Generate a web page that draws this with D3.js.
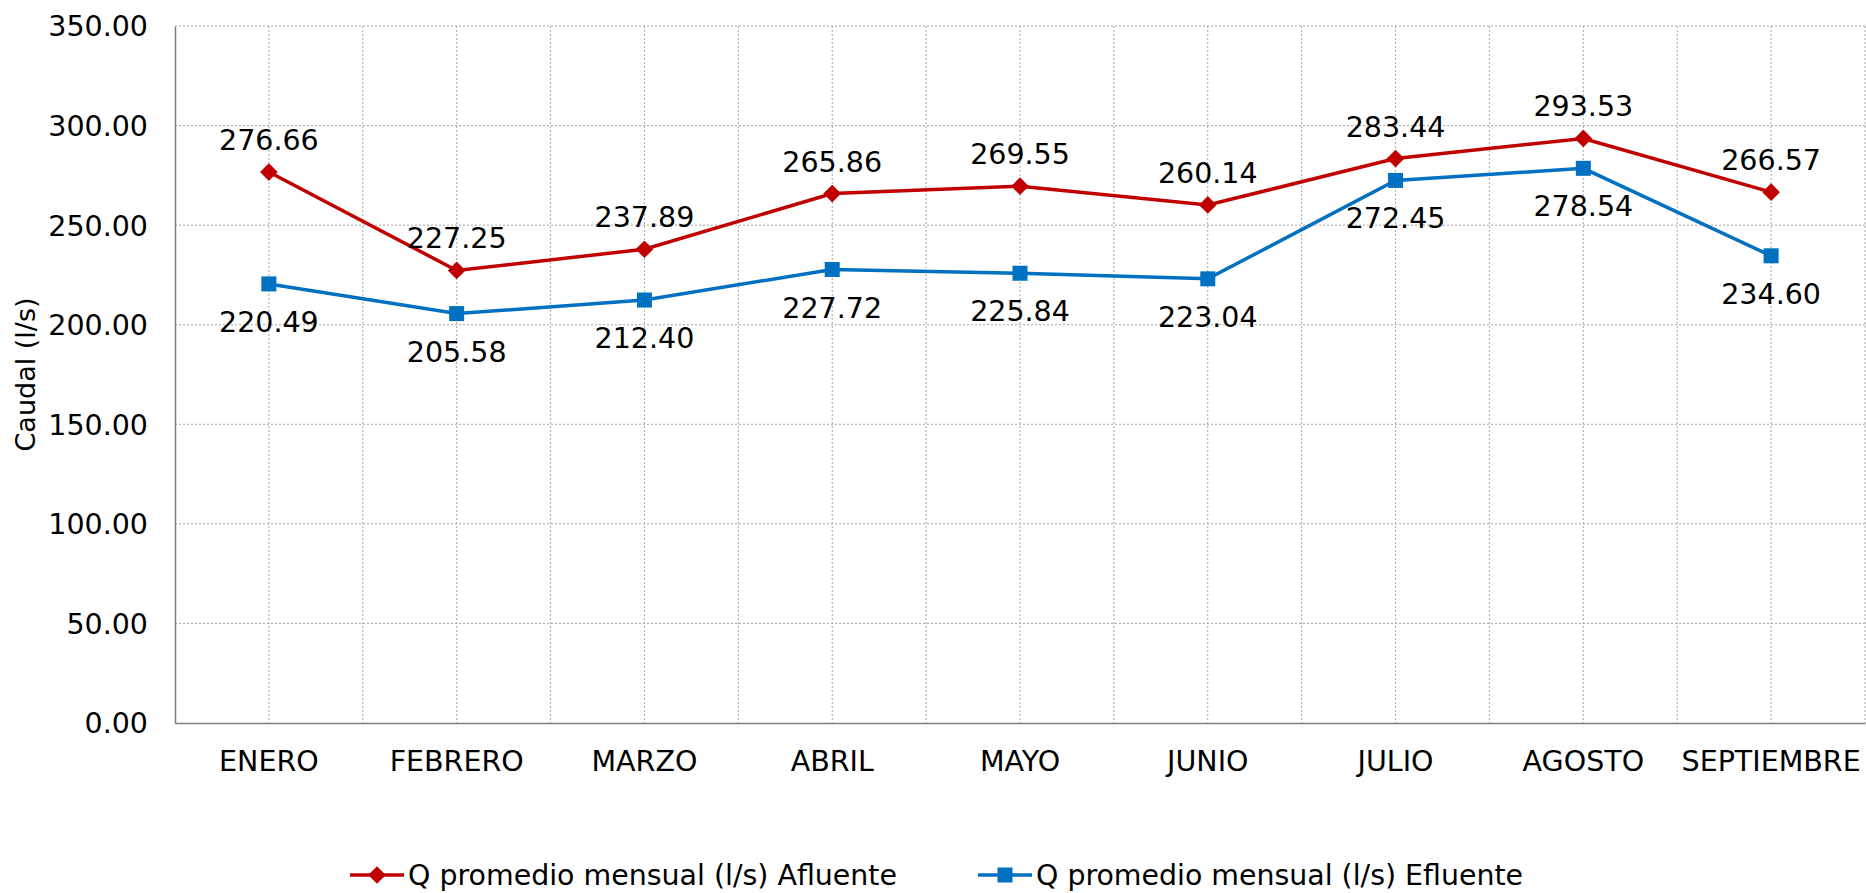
<!DOCTYPE html>
<html>
<head>
<meta charset="utf-8">
<script src="https://cdn.jsdelivr.net/npm/d3@7"></script>
<style>
  body { margin: 0; background: #fff; }
  text { font-family: "DejaVu Sans", Verdana, sans-serif; fill: #000; }
</style>
</head>
<body>
<div id="chart"></div>
<script>
// chart data
const months = ["ENERO", "FEBRERO", "MARZO", "ABRIL", "MAYO", "JUNIO", "JULIO", "AGOSTO", "SEPTIEMBRE"];
const afluente = [276.66, 227.25, 237.89, 265.86, 269.55, 260.14, 283.44, 293.53, 266.57];
const efluente = [220.49, 205.58, 212.40, 227.72, 225.84, 223.04, 272.45, 278.54, 234.60];
const yTicks = [0, 50, 100, 150, 200, 250, 300, 350];
const seriesNames = ["Q promedio mensual (l/s) Afluente", "Q promedio mensual (l/s) Efluente"];

const W = 1866, H = 893;
const margin = {top: 26, right: 1, bottom: 170, left: 175};
const innerW = W - margin.left - margin.right;
const innerH = H - margin.top - margin.bottom;
const RED = "#C00000", BLUE = "#0070C0";
const FS = 28.5;

let svg = d3.select("#chart")
    .append("svg")
    .attr("width", W)
    .attr("height", H);

let g = svg.append("g").attr("transform", `translate(${margin.left}, ${margin.top})`);

let x = d3.scaleBand().domain(months).range([0, innerW]);
let y = d3.scaleLinear().domain([0, 350]).range([innerH, 0]);
let cx = function(d) { return x(d) + x.bandwidth() / 2; };

// horizontal grid
g.append("g").selectAll("line").data(yTicks.filter(t => t > 0)).enter()
    .append("line")
    .attr("x1", 0).attr("x2", innerW)
    .attr("y1", d => y(d)).attr("y2", d => y(d))
    .attr("stroke", "#a6a6a6").attr("stroke-width", 1).attr("stroke-dasharray", "2,2");

// vertical grid: category centers and boundaries
let vlines = months.map(cx).concat(months.map(m => x(m) + x.bandwidth()));
g.append("g").selectAll("line").data(vlines).enter()
    .append("line")
    .attr("x1", d => d).attr("x2", d => d)
    .attr("y1", 0).attr("y2", innerH)
    .attr("stroke", "#a6a6a6").attr("stroke-width", 1).attr("stroke-dasharray", "2,2");

// y axis
let yAxis = g.append("g").call(d3.axisLeft(y).tickValues(yTicks).tickSize(0).tickPadding(27).tickFormat(d3.format(".2f")));
yAxis.select(".domain").attr("stroke", "#808080").attr("stroke-width", 1.5);
yAxis.selectAll("text").style("font-size", FS + "px").attr("dy", "0.35em");

// x axis
let xAxis = g.append("g").attr("transform", `translate(0, ${innerH})`)
    .call(d3.axisBottom(x).tickSize(0).tickPadding(28));
xAxis.select(".domain").attr("stroke", "#808080").attr("stroke-width", 1.5);
xAxis.selectAll("text").style("font-size", FS + "px");

// y axis title
svg.append("text")
    .attr("transform", `translate(35, ${margin.top + innerH / 2}) rotate(-90)`)
    .style("text-anchor", "middle")
    .style("font-size", "27px")
    .text("Caudal (l/s)");

let line = d3.line().x((d, i) => cx(months[i])).y(d => y(d));

// afluente series
g.append("path").datum(afluente).attr("d", line)
    .attr("fill", "none").attr("stroke", RED).attr("stroke-width", 3.5);
g.append("g").selectAll("path").data(afluente).enter()
    .append("path")
    .attr("d", d3.symbol(d3.symbolDiamond2, 200)())
    .attr("transform", (d, i) => `translate(${cx(months[i])}, ${y(d)})`)
    .attr("fill", RED);
g.append("g").selectAll("text").data(afluente).enter()
    .append("text")
    .attr("x", (d, i) => cx(months[i]))
    .attr("y", d => y(d) - 22)
    .style("text-anchor", "middle")
    .style("font-size", FS + "px")
    .text(d => d.toFixed(2));

// efluente series
g.append("path").datum(efluente).attr("d", line)
    .attr("fill", "none").attr("stroke", BLUE).attr("stroke-width", 3.5);
g.append("g").selectAll("rect").data(efluente).enter()
    .append("rect")
    .attr("x", (d, i) => cx(months[i]) - 7.5)
    .attr("y", d => y(d) - 7.5)
    .attr("width", 15).attr("height", 15)
    .attr("fill", BLUE);
g.append("g").selectAll("text").data(efluente).enter()
    .append("text")
    .attr("x", (d, i) => cx(months[i]))
    .attr("y", d => y(d) + 48)
    .style("text-anchor", "middle")
    .style("font-size", FS + "px")
    .text(d => d.toFixed(2));

// legend
let legend = svg.append("g").attr("transform", "translate(0, 875)");
let legendItems = [
    {name: seriesNames[0], color: RED, x0: 350, tx: 408, tw: 489, shape: "diamond"},
    {name: seriesNames[1], color: BLUE, x0: 978, tx: 1036, tw: 487, shape: "square"}
];
legendItems.forEach(function(it) {
    legend.append("line")
        .attr("x1", it.x0).attr("x2", it.x0 + 54)
        .attr("y1", 0).attr("y2", 0)
        .attr("stroke", it.color).attr("stroke-width", 3.5);
    if (it.shape == "diamond") {
        legend.append("path")
            .attr("d", d3.symbol(d3.symbolDiamond2, 200)())
            .attr("transform", `translate(${it.x0 + 27}, 0)`)
            .attr("fill", it.color);
    } else {
        legend.append("rect")
            .attr("x", it.x0 + 27 - 7.5).attr("y", -7.5)
            .attr("width", 15).attr("height", 15)
            .attr("fill", it.color);
    }
    legend.append("text")
        .attr("x", it.tx).attr("y", 0).attr("dy", "0.35em")
        .attr("textLength", it.tw).attr("lengthAdjust", "spacingAndGlyphs")
        .style("font-size", FS + "px")
        .text(it.name);
});
</script>
</body>
</html>
